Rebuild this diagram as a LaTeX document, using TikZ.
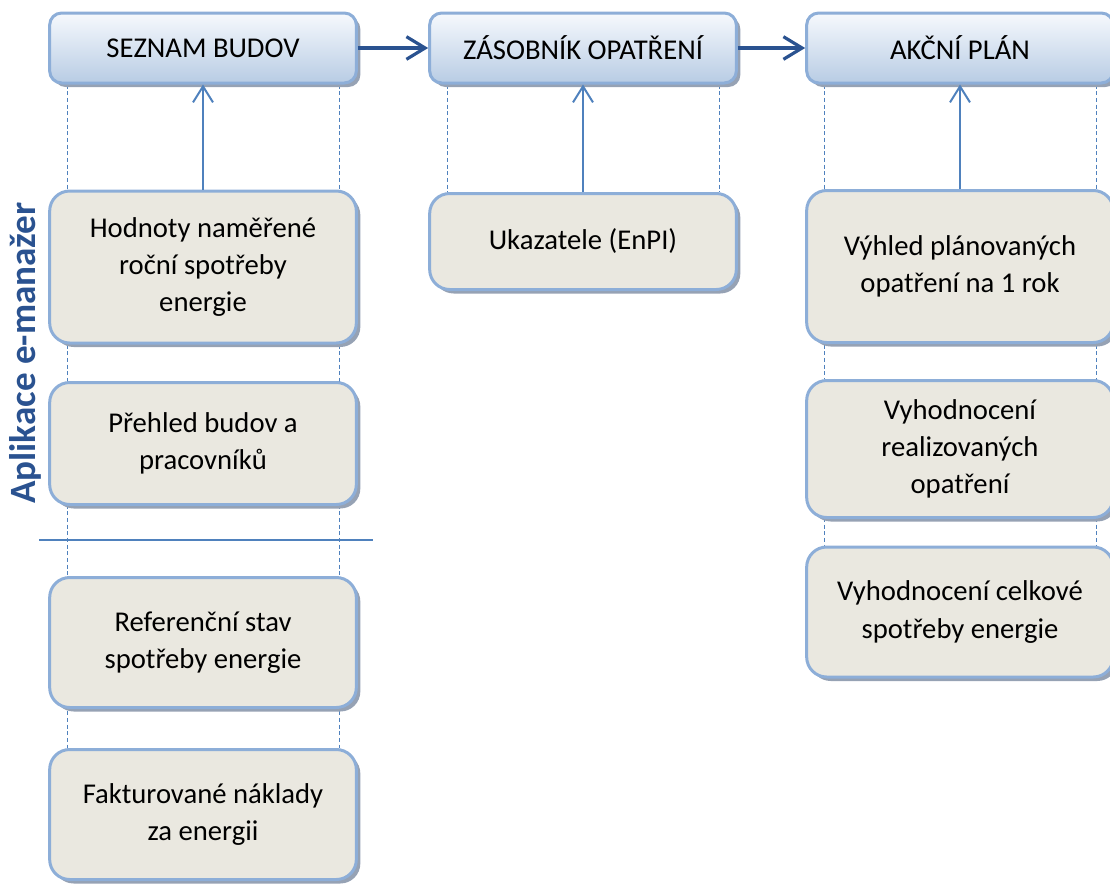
\documentclass[tikz,border=0pt]{standalone}
\usepackage{fontspec}
\setmainfont{Carlito}
\usetikzlibrary{arrows.meta,shadows,backgrounds,calc}

\definecolor{boxfill}{RGB}{234,232,224}
\definecolor{boxedge}{RGB}{141,174,216}
\definecolor{hdrtop}{RGB}{246,249,253}
\definecolor{hdrbot}{RGB}{184,204,228}
\definecolor{shadowgrey}{RGB}{150,162,180}
\definecolor{flowblue}{RGB}{42,82,144}
\definecolor{feedblue}{RGB}{79,129,189}

\tikzset{every picture/.style={line width=0.75pt}}
\tikzset{
  base/.style={rounded corners=15pt, draw=boxedge, line width=2.25pt, align=center,
    inner sep=0pt, font=\fontsize{21.5}{28}\selectfont,
    drop shadow={shadow xshift=3pt, shadow yshift=-3pt, fill=shadowgrey, opacity=1}},
  header/.style={base, rounded corners=9pt, minimum width=230pt, minimum height=52.5pt,
    top color=hdrtop, bottom color=hdrbot},
  item/.style={base, fill=boxfill, minimum width=230pt},
  flow/.style={draw=flowblue, line width=2.4pt, -{Straight Barb[length=14pt,width=17pt]}},
  feed/.style={draw=feedblue, line width=1.5pt, -{Straight Barb[length=12pt,width=15pt]}},
  guide/.style={draw=feedblue, line width=0.9pt, dash pattern=on 3pt off 2pt},
  sepline/.style={draw=feedblue, line width=1.1pt},
  applabel/.style={rotate=90, text=flowblue, font=\fontsize{27.8}{32}\selectfont\bfseries}
}

\begin{document}
\begin{tikzpicture}[x=0.75pt,y=0.75pt,yscale=-1,xscale=1]
\useasboundingbox (0,0) rectangle (1110,885);

% Header Node
\node [header] (budovy) at (203,48) {SEZNAM BUDOV};
% Header Node
\node [header] (zasobnik) at (583,48) {ZÁSOBNÍK OPATŘENÍ};
% Header Node
\node [header] (plan) at (960,48) {AKČNÍ PLÁN};

% Text Node
\node [item, minimum height=114pt] (hodnoty) at (203,267) {Hodnoty naměřené\\roční spotřeby\\energie};
% Text Node
\node [item, minimum height=91.5pt] (prehled) at (203,443.5) {Přehled budov a\\pracovníků};
% Text Node
\node [item, minimum height=97.5pt] (reference) at (203,642.5) {Referenční stav\\spotřeby energie};
% Text Node
\node [item, minimum height=97.5pt] (faktury) at (203,814.5) {Fakturované náklady\\za energii};
% Text Node
\node [item, minimum height=72pt] (ukazatele) at (583,241.5) {Ukazatele (EnPI)};
% Text Node
\node [item, minimum height=114pt] (vyhled) at (960,266.5) {Výhled plánovaných\\opatření na 1 rok};
% Text Node
\node [item, minimum height=102.75pt] (realizace) at (960,449) {Vyhodnocení\\realizovaných\\opatření};
% Text Node
\node [item, minimum height=97.5pt] (celkem) at (960,612) {Vyhodnocení celkové\\spotřeby energie};

% Label
\node [applabel] (aplikace) at (25,353) {Aplikace e-manažer};

% Guides
\begin{scope}[on background layer]
\draw [guide] ($(budovy.south west)+(19,0)$) -- ($(faktury.north west)+(19,0)$);
\draw [guide] ($(budovy.south east)+(-18,0)$) -- ($(faktury.north east)+(-18,0)$);
\draw [guide] ($(zasobnik.south west)+(19,0)$) -- ($(ukazatele.north west)+(19,0)$);
\draw [guide] ($(zasobnik.south east)+(-18,0)$) -- ($(ukazatele.north east)+(-18,0)$);
\draw [guide] ($(plan.south west)+(19,0)$) -- ($(celkem.north west)+(19,0)$);
\draw [guide] ($(plan.south east)+(-18,0)$) -- ($(celkem.north east)+(-18,0)$);
\end{scope}

% Separator
\coordinate (sepL) at (39,540);
\coordinate (sepR) at (373,540);
\draw [sepline] (sepL) -- (sepR);

% Connection
\draw [flow] (budovy) -- (zasobnik);
% Connection
\draw [flow] (zasobnik) -- (plan);
% Connection
\draw [feed] (hodnoty) -- (budovy);
% Connection
\draw [feed] (ukazatele) -- (zasobnik);
% Connection
\draw [feed] (vyhled) -- (plan);

\end{tikzpicture}
\end{document}
